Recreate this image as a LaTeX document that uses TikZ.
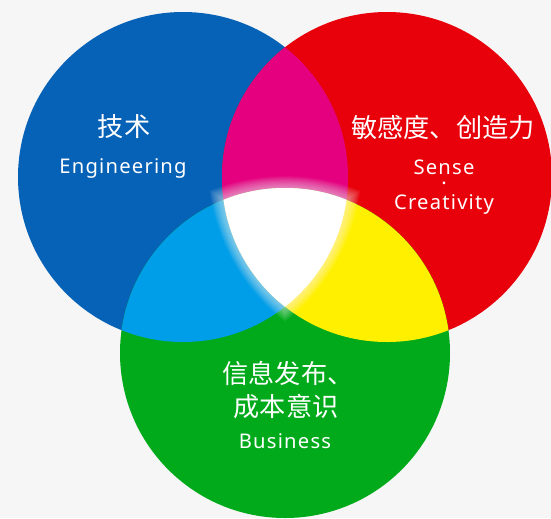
\documentclass[tikz,border=0pt]{standalone}
\usepackage{fontspec}
\setmainfont{Noto Sans}
\newfontfamily\cjk{Noto Sans CJK SC}

\definecolor{bggray}{RGB}{246,246,246}
\definecolor{engblue}{RGB}{6,98,183}
\definecolor{sensered}{RGB}{232,0,10}
\definecolor{bizgreen}{RGB}{0,170,26}
\definecolor{mixmagenta}{RGB}{228,0,127}
\definecolor{mixcyan}{RGB}{0,158,232}
\definecolor{mixyellow}{RGB}{255,240,0}

\tikzset{
  cnlabel/.style={text=white,font=\cjk\fontsize{14.9}{18}\selectfont},
  enlabel/.style={text=white,inner sep=1pt,font=\addfontfeature{LetterSpace=6}\fontsize{11.5}{14}\selectfont}
}

\begin{document}
\begin{tikzpicture}[x=0.02cm,y=-0.02cm]
  \useasboundingbox (0,0) rectangle (551,518);
  \fill[bggray] (0,0) rectangle (551,518);

  % the three circles
  \fill[engblue] (183,177) circle (165);
  \fill[sensered] (387,177) circle (165);
  \fill[bizgreen] (285,353) circle (165);

  % pairwise overlaps
  \begin{scope}
    \clip (183,177) circle (165);
    \fill[mixmagenta] (387,177) circle (165);
    \fill[mixcyan] (285,353) circle (165);
  \end{scope}
  \begin{scope}
    \clip (387,177) circle (165);
    \fill[mixyellow] (285,353) circle (165);
  \end{scope}

  % soft glow round the middle
  \foreach \s in {1.01,1.02,...,1.24}
  {
    \begin{scope}[scale around={\s:(285,240)}]
      \clip (183,177) circle (165);
      \clip (387,177) circle (165);
      \fill[white,opacity=0.03] (285,353) circle (165);
    \end{scope}
  }
  \begin{scope}
    \clip (183,177) circle (165);
    \clip (387,177) circle (165);
    \fill[white] (285,353) circle (165);
  \end{scope}

  % labels
  \node[cnlabel] (techcn) at (124,127) {技术};
  \node[enlabel] (techen) at (123,168) {Engineering};

  \node[cnlabel] (sensecn) at (443,128) {敏感度、创造力};
  \node[enlabel,anchor=base] (senseen) at (444,174) {Sense};
  \node[enlabel,inner sep=0pt,text height=2pt,text depth=0pt,anchor=base] (sensedot) at (444,190) {·};
  \node[enlabel] (createn) at (444,204) {Creativity};

  \node[cnlabel] (bizcna) at (288,373) {信息发布、};
  \node[cnlabel] (bizcnb) at (286,407) {成本意识};
  \node[enlabel] (bizen) at (285,441) {Business};
\end{tikzpicture}
\end{document}
